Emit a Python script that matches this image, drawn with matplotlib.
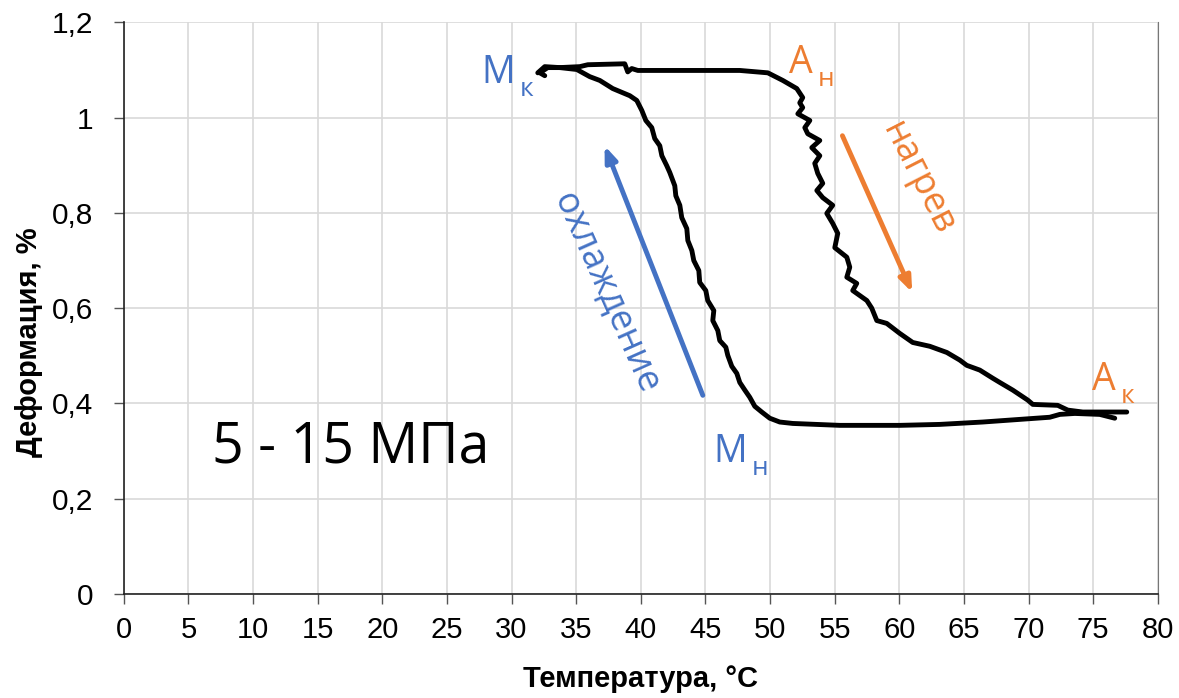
import matplotlib
matplotlib.use("Agg")
import matplotlib.pyplot as plt

# ---- data ----
heat_T = [32.03, 32.57, 33.73, 35.28, 35.90, 38.76, 38.99, 39.30, 39.77, 44.56, 47.66, 49.83,
          50.99, 52.07, 52.53, 52.30, 52.53, 52.15, 53.08, 52.69, 52.92, 53.85, 53.23, 53.85,
          53.46, 53.69, 54.08, 53.62, 54.08, 54.85, 54.39, 54.85, 55.24, 55.01, 55.94, 56.17,
          55.94, 56.71, 56.40, 57.49, 57.87, 58.26, 59.03, 60.04, 61.04, 62.36, 63.68, 64.68,
          65.22, 66.23, 67.23, 67.78, 68.78, 69.94, 70.33, 72.26, 73.04, 74.20, 77.60]
heat_eps = [1.094, 1.107, 1.105, 1.107, 1.111, 1.113, 1.096, 1.103, 1.099, 1.099, 1.099, 1.094,
            1.078, 1.061, 1.042, 1.031, 1.021, 1.008, 0.994, 0.979, 0.966, 0.952, 0.937, 0.920,
            0.904, 0.883, 0.862, 0.847, 0.832, 0.816, 0.799, 0.778, 0.757, 0.727, 0.707, 0.686,
            0.665, 0.652, 0.637, 0.616, 0.600, 0.574, 0.568, 0.547, 0.528, 0.520, 0.507, 0.491,
            0.480, 0.470, 0.453, 0.444, 0.428, 0.407, 0.398, 0.396, 0.386, 0.382, 0.382]

cool_T = [76.67, 75.51, 73.58, 72.42, 71.64, 69.56, 66.46, 63.13, 60.04, 55.40, 51.76, 50.75,
          49.98, 49.36, 48.82, 48.43, 48.05, 47.66, 47.43, 47.04, 46.73, 46.58, 46.11, 45.96,
          45.57, 45.65, 45.18, 45.03, 44.56, 44.49, 44.10, 43.95, 43.64, 43.56, 43.17, 43.02,
          42.71, 42.63, 42.24, 42.01, 41.63, 41.47, 41.08, 40.85, 40.39, 40.08, 39.69, 39.15,
          37.83, 36.83, 36.05, 35.05, 33.73, 32.80, 32.19, 32.57]
cool_eps = [0.369, 0.377, 0.379, 0.377, 0.371, 0.367, 0.361, 0.356, 0.354, 0.354, 0.358, 0.361,
            0.369, 0.382, 0.394, 0.413, 0.428, 0.444, 0.463, 0.478, 0.501, 0.518, 0.532, 0.553,
            0.574, 0.595, 0.616, 0.637, 0.654, 0.679, 0.700, 0.721, 0.742, 0.767, 0.790, 0.816,
            0.836, 0.857, 0.885, 0.899, 0.920, 0.941, 0.956, 0.979, 0.994, 1.015, 1.036, 1.046,
            1.061, 1.078, 1.086, 1.101, 1.105, 1.105, 1.094, 1.088]

x_ticks = list(range(0, 81, 5))
y_ticks = [0, 0.2, 0.4, 0.6, 0.8, 1.0, 1.2]
y_tick_labels = ["0", "0,2", "0,4", "0,6", "0,8", "1", "1,2"]

BLUE = "#4472C4"
ORANGE = "#ED7D31"
TXT = ["Open Sans", "DejaVu Sans"]
AX = ["Liberation Sans", "DejaVu Sans"]

fig = plt.figure(figsize=(11.79, 6.98), dpi=100)
ax = fig.add_axes([0.105, 0.149, 0.877, 0.819])

ax.plot(heat_T, heat_eps, color="black", lw=3.5, solid_joinstyle="round", solid_capstyle="round")
ax.plot(cool_T, cool_eps, color="black", lw=3.5, solid_joinstyle="round", solid_capstyle="round")

ax.set_xlim(0, 80)
ax.set_ylim(0, 1.2)
ax.set_xticks(x_ticks)
ax.set_xticklabels([str(v) for v in x_ticks], family=AX, fontsize=21)
ax.set_yticks(y_ticks)
ax.set_yticklabels(y_tick_labels, family=AX, fontsize=21.5)
ax.grid(True, color="#d9d9d9", lw=1.2)
ax.set_axisbelow(True)
ax.tick_params(axis="x", direction="out", length=7, width=1, color="#555555", pad=9)
ax.tick_params(axis="y", direction="out", length=7, width=1, color="#555555", pad=15)
ax.spines["top"].set_visible(False)
ax.spines["right"].set_color("#777777")
ax.spines["left"].set_color("#222222")
ax.spines["bottom"].set_color("#222222")
ax.spines["left"].set_linewidth(1.2)
ax.spines["bottom"].set_linewidth(1.2)

ax.set_xlabel("Температура, °C", family=AX, fontsize=21, fontweight="bold")
ax.set_ylabel("Деформация, %", family=AX, fontsize=21, fontweight="bold")
ax.xaxis.set_label_coords(0.5, -0.125)
ax.yaxis.set_label_coords(-0.078, 0.44)

# annotations
ax.text(6.8, 0.275, "5 - 15 МПа", family=TXT, fontsize=40, color="black", va="baseline")

def label(x, y, main, sub, color, dx):
    ax.text(x, y, main, family=TXT, fontsize=27, color=color, va="baseline")
    ax.text(x + dx, y - 0.027, sub, family=TXT, fontsize=19, color=color, va="baseline")

label(27.7, 1.073, "М", "к", BLUE, 2.9)
label(45.6, 0.277, "М", "н", BLUE, 3.0)
label(51.5, 1.094, "А", "н", ORANGE, 2.2)
label(74.9, 0.428, "А", "к", ORANGE, 2.2)

ax.annotate("", xy=(37.2, 0.941), xytext=(44.8, 0.417),
            arrowprops=dict(arrowstyle="-|>,head_length=0.9,head_width=0.35", color=BLUE, lw=3.5,
                            shrinkA=0, shrinkB=0))
ax.annotate("", xy=(61.0, 0.633), xytext=(55.6, 0.962),
            arrowprops=dict(arrowstyle="-|>,head_length=0.9,head_width=0.35", color=ORANGE, lw=3.5,
                            shrinkA=0, shrinkB=0))

ax.text(37.3, 0.631, "охлаждение", family=TXT, fontsize=26, color=BLUE, rotation=-66,
        ha="center", va="center", rotation_mode="anchor")
ax.text(61.4, 0.872, "нагрев", family=TXT, fontsize=26, color=ORANGE, rotation=-63,
        ha="center", va="center", rotation_mode="anchor")

fig.savefig("out.png", dpi=100)
